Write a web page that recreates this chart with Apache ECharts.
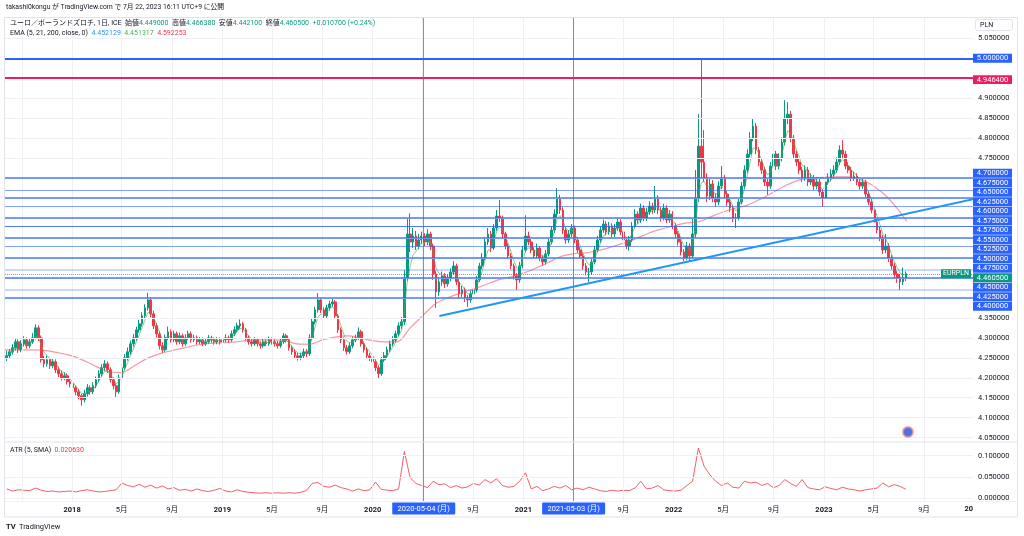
<!DOCTYPE html>
<html><head><meta charset="utf-8"><title>EURPLN</title>
<script src="https://cdn.jsdelivr.net/npm/echarts@6.0.0/dist/echarts.min.js"></script>
<style>html,body{margin:0;padding:0;background:#fff;}#chart{width:1024px;height:536px;}</style>
</head><body><div id="chart"></div>
<script>
// ---------------- DATA ----------------
// weekly candles, first week centred on 2017-07-26
const firstWeek = '2017-07-26';
const firstOpen = 4.250;
const closes = [
4.255,4.265,4.275,4.290,4.270,4.285,4.295,4.280,4.290,4.300,
4.325,4.300,4.245,4.235,4.245,4.230,4.240,4.220,4.210,4.200,
4.205,4.190,4.185,4.175,4.165,4.155,4.145,4.160,4.175,4.165,
4.180,4.195,4.210,4.225,4.235,4.220,4.195,4.180,4.165,4.200,
4.225,4.250,4.265,4.285,4.300,4.320,4.335,4.355,4.375,4.395,
4.360,4.330,4.310,4.280,4.270,4.300,4.315,4.295,4.310,4.290,
4.305,4.285,4.300,4.310,4.295,4.300,4.290,4.295,4.285,4.290,
4.300,4.295,4.290,4.295,4.290,4.295,4.300,4.295,4.310,4.320,
4.330,4.335,4.320,4.300,4.290,4.285,4.295,4.285,4.280,4.290,
4.285,4.295,4.290,4.285,4.280,4.290,4.305,4.295,4.275,4.265,
4.255,4.250,4.255,4.265,4.260,4.300,4.340,4.370,4.395,4.370,
4.355,4.375,4.385,4.390,4.355,4.320,4.295,4.275,4.265,4.280,
4.295,4.300,4.315,4.285,4.270,4.255,4.250,4.240,4.225,4.210,
4.245,4.255,4.270,4.285,4.295,4.310,4.330,4.340,4.450,4.560,
4.540,4.555,4.530,4.545,4.555,4.540,4.560,4.530,4.460,4.415,
4.440,4.455,4.435,4.450,4.465,4.480,4.440,4.410,4.420,4.400,
4.395,4.410,4.420,4.445,4.480,4.500,4.540,4.560,4.525,4.575,
4.605,4.600,4.560,4.530,4.505,4.480,4.455,4.445,4.480,4.520,
4.555,4.540,4.520,4.505,4.525,4.500,4.490,4.510,4.540,4.570,
4.610,4.650,4.620,4.570,4.545,4.560,4.575,4.545,4.520,4.505,
4.480,4.465,4.465,4.490,4.520,4.545,4.570,4.585,4.565,4.580,
4.560,4.575,4.590,4.565,4.545,4.530,4.545,4.580,4.610,4.595,
4.625,4.600,4.615,4.630,4.620,4.650,4.620,4.600,4.625,4.595,
4.610,4.580,4.560,4.540,4.515,4.500,4.530,4.505,4.560,4.650,
4.780,4.740,4.700,4.655,4.685,4.650,4.640,4.680,4.700,4.660,
4.640,4.625,4.600,4.600,4.640,4.680,4.720,4.760,4.800,4.830,
4.770,4.740,4.720,4.690,4.680,4.730,4.760,4.730,4.750,4.790,
4.850,4.860,4.800,4.760,4.740,4.720,4.700,4.720,4.690,4.700,
4.680,4.690,4.665,4.650,4.690,4.700,4.710,4.720,4.740,4.770,
4.760,4.730,4.720,4.700,4.705,4.690,4.680,4.690,4.660,4.640,
4.620,4.590,4.570,4.550,4.520,4.530,4.500,4.480,4.460,4.450,
4.440,4.450,4.4605];
const highs = [
4.268,4.272,4.284,4.298,4.296,4.294,4.304,4.301,4.297,4.312,
4.334,4.331,4.306,4.255,4.256,4.250,4.249,4.246,4.228,4.218,
4.214,4.211,4.198,4.192,4.181,4.172,4.160,4.170,4.184,4.181,
4.189,4.203,4.219,4.234,4.244,4.241,4.226,4.201,4.186,4.208,
4.233,4.259,4.276,4.293,4.310,4.328,4.345,4.364,4.384,4.413,
4.402,4.368,4.337,4.316,4.289,4.308,4.328,4.321,4.318,4.316,
4.313,4.311,4.309,4.318,4.316,4.308,4.306,4.302,4.301,4.297,
4.307,4.305,4.301,4.302,4.301,4.303,4.309,4.306,4.318,4.329,
4.338,4.346,4.340,4.325,4.306,4.297,4.302,4.300,4.291,4.297,
4.296,4.303,4.301,4.296,4.292,4.298,4.312,4.310,4.300,4.281,
4.271,4.262,4.263,4.273,4.272,4.309,4.348,4.378,4.412,4.401,
4.376,4.383,4.393,4.400,4.395,4.360,4.326,4.301,4.282,4.288,
4.303,4.308,4.326,4.320,4.291,4.276,4.262,4.365,4.246,4.231,
4.252,4.264,4.278,4.293,4.304,4.318,4.339,4.352,4.470,4.598,
4.612,4.575,4.568,4.560,4.566,4.562,4.572,4.566,4.536,4.468,
4.452,4.466,4.462,4.460,4.474,4.492,4.486,4.447,4.430,4.426,
4.407,4.418,4.428,4.455,4.488,4.512,4.552,4.575,4.568,4.585,
4.620,4.645,4.606,4.566,4.537,4.512,4.486,4.462,4.490,4.530,
4.607,4.566,4.547,4.527,4.536,4.530,4.507,4.520,4.550,4.580,
4.622,4.675,4.658,4.627,4.577,4.570,4.585,4.581,4.552,4.527,
4.512,4.487,4.475,4.499,4.530,4.555,4.580,4.596,4.592,4.590,
4.587,4.585,4.601,4.597,4.572,4.552,4.555,4.590,4.622,4.617,
4.636,4.632,4.626,4.642,4.638,4.680,4.657,4.627,4.636,4.632,
4.620,4.617,4.587,4.567,4.547,4.522,4.540,4.537,4.600,4.720,
4.860,4.998,4.820,4.712,4.700,4.695,4.662,4.692,4.730,4.708,
4.668,4.648,4.632,4.612,4.650,4.690,4.732,4.772,4.815,4.850,
4.838,4.778,4.748,4.728,4.698,4.740,4.790,4.768,4.762,4.802,
4.895,4.890,4.868,4.808,4.768,4.750,4.728,4.732,4.728,4.712,
4.708,4.702,4.698,4.672,4.700,4.712,4.722,4.732,4.752,4.782,
4.795,4.768,4.740,4.728,4.716,4.712,4.698,4.700,4.696,4.668,
4.648,4.627,4.598,4.578,4.557,4.560,4.537,4.507,4.487,4.468,
4.460,4.476,4.4664];
const lows = [
4.242,4.248,4.258,4.268,4.262,4.264,4.278,4.273,4.274,4.285,
4.296,4.292,4.238,4.226,4.228,4.222,4.224,4.212,4.202,4.193,
4.194,4.183,4.176,4.167,4.156,4.146,4.130,4.138,4.153,4.157,
4.159,4.174,4.189,4.203,4.217,4.212,4.188,4.171,4.150,4.160,
4.194,4.219,4.243,4.258,4.278,4.293,4.313,4.328,4.347,4.368,
4.352,4.322,4.301,4.271,4.262,4.265,4.294,4.288,4.289,4.283,
4.284,4.278,4.280,4.294,4.288,4.289,4.283,4.284,4.279,4.280,
4.285,4.288,4.283,4.284,4.283,4.285,4.289,4.288,4.290,4.304,
4.314,4.323,4.313,4.293,4.283,4.278,4.280,4.278,4.273,4.275,
4.279,4.280,4.283,4.278,4.273,4.275,4.285,4.288,4.268,4.257,
4.247,4.243,4.244,4.249,4.252,4.255,4.295,4.334,4.363,4.362,
4.347,4.350,4.368,4.377,4.348,4.312,4.287,4.267,4.258,4.260,
4.274,4.289,4.294,4.278,4.263,4.247,4.242,4.232,4.217,4.199,
4.205,4.239,4.249,4.264,4.279,4.289,4.304,4.322,4.332,4.442,
4.515,4.525,4.520,4.522,4.535,4.530,4.532,4.520,4.445,4.375,
4.405,4.430,4.425,4.428,4.442,4.458,4.432,4.400,4.402,4.390,
4.377,4.388,4.403,4.414,4.440,4.472,4.494,4.532,4.515,4.520,
4.568,4.590,4.550,4.522,4.497,4.472,4.446,4.420,4.438,4.474,
4.514,4.532,4.512,4.497,4.498,4.492,4.480,4.483,4.504,4.534,
4.563,4.602,4.610,4.560,4.536,4.538,4.552,4.537,4.512,4.497,
4.471,4.456,4.440,4.458,4.484,4.514,4.538,4.563,4.557,4.558,
4.552,4.553,4.568,4.557,4.537,4.522,4.518,4.540,4.574,4.586,
4.588,4.592,4.593,4.608,4.611,4.613,4.610,4.591,4.594,4.587,
4.588,4.572,4.551,4.531,4.506,4.492,4.494,4.490,4.498,4.552,
4.640,4.700,4.690,4.640,4.645,4.640,4.628,4.632,4.672,4.650,
4.630,4.615,4.590,4.575,4.594,4.634,4.673,4.712,4.752,4.792,
4.760,4.730,4.710,4.680,4.658,4.673,4.722,4.720,4.722,4.742,
4.782,4.835,4.790,4.750,4.730,4.710,4.690,4.693,4.680,4.683,
4.670,4.672,4.655,4.628,4.645,4.683,4.692,4.702,4.713,4.733,
4.750,4.722,4.712,4.692,4.693,4.682,4.671,4.673,4.652,4.632,
4.612,4.582,4.562,4.542,4.510,4.512,4.490,4.471,4.450,4.438,
4.420,4.432,4.4421];

// EMA 200, one value per month starting 2017-07
const ema200Start = '2017-07-01';
const ema200Vals = [
4.270,4.270,4.270,4.270,4.268,4.262,
4.255,4.242,4.228,4.215,4.213,4.230,4.248,4.260,4.268,4.275,4.282,4.286,
4.288,4.290,4.293,4.295,4.295,4.293,4.285,4.284,4.295,4.302,4.305,4.300,
4.293,4.290,4.290,4.325,4.355,4.385,4.400,4.412,4.422,4.433,4.445,4.452,
4.462,4.475,4.488,4.503,4.510,4.513,4.518,4.527,4.537,4.548,4.562,4.572,
4.580,4.588,4.590,4.603,4.615,4.625,4.633,4.648,4.665,4.682,4.695,4.700,
4.702,4.703,4.703,4.697,4.680,4.655,4.620];
const ema200Last = ['2023-07-21', 4.592253];

const atrVals = [
0.022,0.017,0.020,0.019,0.018,0.024,0.019,0.016,0.017,0.015,
0.016,0.017,0.015,0.018,0.020,0.017,0.015,0.016,0.018,0.020,
0.036,0.030,0.027,0.033,0.026,0.031,0.024,0.029,0.022,0.025,
0.019,0.021,0.017,0.022,0.018,0.016,0.019,0.023,0.017,0.015,
0.020,0.016,0.014,0.013,0.012,0.013,0.012,0.013,0.012,0.013,
0.012,0.014,0.018,0.035,0.037,0.028,0.026,0.031,0.025,0.022,
0.017,0.022,0.018,0.020,0.038,0.021,0.019,0.018,0.022,0.110,
0.048,0.035,0.030,0.025,0.040,0.032,0.034,0.025,0.030,0.024,
0.027,0.035,0.031,0.044,0.036,0.046,0.030,0.026,0.028,0.040,
0.060,0.022,0.028,0.018,0.022,0.028,0.024,0.030,0.020,0.024,
0.020,0.026,0.022,0.018,0.016,0.019,0.017,0.019,0.018,0.024,
0.040,0.022,0.024,0.030,0.020,0.018,0.017,0.019,0.030,0.040,
0.118,0.075,0.055,0.040,0.030,0.036,0.026,0.024,0.040,0.036,
0.038,0.030,0.035,0.025,0.030,0.044,0.035,0.028,0.044,0.025,
0.022,0.020,0.027,0.023,0.020,0.026,0.022,0.020,0.017,0.020,
0.022,0.024,0.036,0.027,0.032,0.028,0.021];

// drawn objects
const levelValues = [5.0, 4.9464, 4.70, 4.675, 4.65, 4.625, 4.60, 4.575, 4.575, 4.55, 4.525, 4.50, 4.475, 4.45, 4.425, 4.40];
const lastPrice = 4.4605;
const trendDates = ['2020-06-11', '2024-01-03'];
const trendPrices = [4.3547, 4.6484];
const markerDate = '2023-07-24', markerPrice = 4.064;
const vLineDates = ['2020-05-04', '2021-05-03'];
const vLineLabels = ['2020-05-04 (月)', '2021-05-03 (月)'];

// axes
const priceGridTicks = [4.05,4.10,4.15,4.20,4.25,4.30,4.35,4.40,4.45,4.50,4.55,4.60,4.65,4.70,4.75,4.80,4.85,4.90,4.95,5.00,5.05];
const priceLabelTicks = [4.05,4.10,4.15,4.20,4.25,4.30,4.35,4.75,4.80,4.85,4.90,5.05];
const atrTicks = [0, 0.05, 0.10];
const timeTickDates = ['2018-01-01','2018-05-01','2018-09-01','2019-01-01','2019-05-01','2019-09-01','2020-01-01','2020-09-01','2021-01-01','2021-09-01','2022-01-01','2022-05-01','2022-09-01','2023-01-01','2023-05-01','2023-09-01'];
const timeTickLabels = ['2018','5月','9月','2019','5月','9月','2020','9月','2021','9月','2022','5月','9月','2023','5月','9月'];
const timeGridDates = ['2017-09-01','2018-01-01','2018-05-01','2018-09-01','2019-01-01','2019-05-01','2019-09-01','2020-01-01','2020-05-01','2020-09-01','2021-01-01','2021-05-01','2021-09-01','2022-01-01','2022-05-01','2022-09-01','2023-01-01','2023-05-01','2023-09-01'];

// ---------------- BUILD ----------------
const FONT = "Roboto, 'Noto Sans CJK JP', sans-serif";
const DAY = 86400000, WEEK = 7 * DAY;
const T = s => Date.parse(s);
const t0 = T(firstWeek);
const tMin = T('2017-07-22'), tMax = T('2023-12-29');
const UP = '#089981', DOWN = '#f23645', BLUE = '#2962ff';

const candleData = closes.map((c, i) => [t0 + i * WEEK, i === 0 ? firstOpen : closes[i - 1], c, lows[i], highs[i]]);
// EMA(21, daily) applied on weekly closes (5 trading days per week)
const a21 = 1 - Math.pow(1 - 2 / 22, 5);
let e21 = closes[0];
const ema21Data = closes.map((c, i) => { if (i > 0) e21 = e21 + a21 * (c - e21); return [t0 + i * WEEK, e21]; });
const s200 = new Date(T(ema200Start));
const ema200Data = ema200Vals.map((v, m) => [Date.UTC(s200.getUTCFullYear(), s200.getUTCMonth() + m, 1), v]);
ema200Data.push([T(ema200Last[0]), ema200Last[1]]);
const atrData = atrVals.map((v, k) => [t0 + 2 * k * WEEK, v]);
const timeTickTs = timeTickDates.map(T);
const tickLabelMap = {}; timeTickTs.forEach((t, i) => tickLabelMap[t] = timeTickLabels[i]);

function levelStyle(v, idx) {
  if (idx === 0) return {color: BLUE, width: 2, opacity: 1, type: 'solid'};
  if (idx === 1) return {color: '#e91e63', width: 2, opacity: 1, type: 'solid'};
  const k = Math.round(v * 1000);
  if (k === 4475 || k === 4425) return {color: BLUE, width: 2, opacity: 0.25, type: 'solid'};
  if (k % 50 === 0) return {color: BLUE, width: 1.6, opacity: 0.85, type: 'solid'};
  return {color: BLUE, width: 1, opacity: 0.6, type: 'solid'};
}

const gridStyle = {color: '#eef0f5', width: 1, type: 'solid'};
const vStyle = {color: BLUE, width: 1, opacity: 0.7, type: 'solid'};
const mlBase = {silent: true, symbol: ['none', 'none'], label: {show: false}, animation: false};

const option = {
  animation: false,
  backgroundColor: '#ffffff',
  textStyle: {fontFamily: FONT},
  grid: [
    {left: 5, top: 18, width: 968, height: 424},
    {left: 5, top: 442, width: 968, height: 59}
  ],
  xAxis: [
    {type: 'value', gridIndex: 0, min: tMin, max: tMax, axisLine: {show: false}, axisTick: {show: false}, axisLabel: {show: false}, splitLine: {show: false}},
    {type: 'value', gridIndex: 1, min: tMin, max: tMax, axisLine: {show: false}, axisTick: {show: false}, splitLine: {show: false},
     axisLabel: {show: true, customValues: timeTickTs, margin: 5, hideOverlap: false,
       formatter: v => { const l = tickLabelMap[v] || ''; return /月/.test(l) ? '{m|' + l + '}' : '{y|' + l + '}'; },
       rich: {y: {fontWeight: 'bold', fontSize: 7.5, color: '#131722', fontFamily: FONT}, m: {fontSize: 7.5, color: '#131722', fontFamily: FONT}}}}
  ],
  yAxis: [
    {type: 'value', gridIndex: 0, position: 'right', min: 4.0392, max: 5.1008, axisLine: {show: false}, axisTick: {show: false}, splitLine: {show: false},
     axisLabel: {customValues: priceLabelTicks, formatter: v => v.toFixed(6), fontSize: 7.5, color: '#131722', margin: 5, fontFamily: FONT}},
    {type: 'value', gridIndex: 1, position: 'right', min: -0.00634, max: 0.1322, axisLine: {show: false}, axisTick: {show: false}, splitLine: {show: false},
     axisLabel: {customValues: atrTicks, formatter: v => v.toFixed(6), fontSize: 7.5, color: '#131722', margin: 5, fontFamily: FONT}}
  ],
  series: [
    {name: 'gridMain', type: 'line', xAxisIndex: 0, yAxisIndex: 0, z: 1, data: [[tMin, 4.5]], showSymbol: false, lineStyle: {opacity: 0},
     markLine: Object.assign({}, mlBase, {data: priceGridTicks.map(v => ({yAxis: v, lineStyle: gridStyle})).concat(timeGridDates.map(d => ({xAxis: T(d), lineStyle: gridStyle})))})},
    {name: 'gridAtr', type: 'line', xAxisIndex: 1, yAxisIndex: 1, z: 1, data: [[tMin, 0]], showSymbol: false, lineStyle: {opacity: 0},
     markLine: Object.assign({}, mlBase, {data: atrTicks.map(v => ({yAxis: v, lineStyle: gridStyle})).concat(timeGridDates.map(d => ({xAxis: T(d), lineStyle: gridStyle})))
       .concat(vLineDates.map(d => ({xAxis: T(d), lineStyle: vStyle})))})},
    {name: 'EURPLN', type: 'candlestick', xAxisIndex: 0, yAxisIndex: 0, z: 3, barWidth: 2.2, data: candleData,
     itemStyle: {color: UP, color0: DOWN, borderColor: UP, borderColor0: DOWN, borderWidth: 1}},
    {name: 'EMA200', type: 'line', xAxisIndex: 0, yAxisIndex: 0, z: 4, data: ema200Data, showSymbol: false, smooth: 0.3,
     lineStyle: {color: '#f7525f', width: 1.2, opacity: 0.6}},
    {name: 'EMA21', type: 'line', xAxisIndex: 0, yAxisIndex: 0, z: 4, data: ema21Data, showSymbol: false,
     lineStyle: {color: '#4caf50', width: 1, opacity: 0.65}},
    {name: 'levels', type: 'line', xAxisIndex: 0, yAxisIndex: 0, z: 5, data: [[tMin, 4.5]], showSymbol: false, lineStyle: {opacity: 0},
     markLine: Object.assign({}, mlBase, {data: levelValues.map((v, i) => ({yAxis: v, lineStyle: levelStyle(v, i)}))
       .concat([{yAxis: lastPrice, lineStyle: {color: UP, width: 1, type: 'dotted', opacity: 0.7}}])
       .concat(vLineDates.map(d => ({xAxis: T(d), lineStyle: vStyle})))})},
    {name: 'trend', type: 'line', xAxisIndex: 0, yAxisIndex: 0, z: 6, showSymbol: false,
     data: trendDates.map((d, i) => [T(d), trendPrices[i]]), lineStyle: {color: '#2196f3', width: 2}},
    {name: 'marker', type: 'scatter', xAxisIndex: 0, yAxisIndex: 0, z: 7, data: [[T(markerDate), markerPrice]], symbolSize: 10,
     itemStyle: {color: '#1f4fd6', borderColor: '#f58a93', borderWidth: 2}},
    {name: 'ATR', type: 'line', xAxisIndex: 1, yAxisIndex: 1, z: 4, data: atrData, showSymbol: false,
     lineStyle: {color: '#f23645', width: 1, opacity: 0.8}}
  ]
};

const chart = echarts.init(document.getElementById('chart'), null, {renderer: 'canvas'});
chart.setOption(option);

// ---------------- OVERLAY TEXT ----------------
const ctx = document.createElement('canvas').getContext('2d');
const g = [];
function textRun(x, y, parts, size) {
  parts.forEach(p => {
    const font = (p[2] ? 'bold ' : '') + size + 'px ' + FONT;
    g.push({type: 'text', z: 100, style: {text: p[0], x: x, y: y, fill: p[1], font: font, align: 'left', verticalAlign: 'middle'}});
    ctx.font = font; x += ctx.measureText(p[0]).width;
  });
}
const DK = '#131722';
g.push({type: 'rect', z: 90, shape: {x: 4.5, y: 17.5, width: 1013, height: 499.5}, style: {fill: 'none', stroke: '#e0e3eb', lineWidth: 1}});
g.push({type: 'line', z: 90, shape: {x1: 5, y1: 442, x2: 1017, y2: 442}, style: {stroke: '#e0e3eb', lineWidth: 1}});
g.push({type: 'line', z: 90, shape: {x1: 5, y1: 501.5, x2: 1017, y2: 501.5}, style: {stroke: '#eef0f5', lineWidth: 1}});

textRun(6, 7, [['takashi0kongu が TradingView.com で 7月 22, 2023 16:11 UTC+9 に公開', DK]], 6.8);
textRun(10, 23.3, [['ユーロ／ポーランドズロチ, 1日, ICE', DK], ['  始値', DK], ['4.449000', UP], ['  高値', DK], ['4.466380', UP],
  ['  安値', DK], ['4.442100', UP], ['  終値', DK], ['4.460500', UP], ['  +0.010700 (+0.24%)', UP]], 7);
textRun(10, 33.3, [['EMA (5, 21, 200, close, 0)', DK], ['  4.452129', '#2196f3'], ['  4.451317', '#4caf50'], ['  4.592253', '#f23645']], 7);
textRun(10, 450, [['ATR (5, SMA)', DK], ['  0.020630', '#f23645']], 7);
textRun(19, 527, [['TradingView', DK]], 7.5);
textRun(6, 527, [['TV', DK, true]], 7.5);

g.push({type: 'rect', z: 95, shape: {x: 975.5, y: 19.5, width: 37, height: 11, r: 2}, style: {fill: '#fff', stroke: '#e0e3eb', lineWidth: 1}});
g.push({type: 'text', z: 96, style: {text: 'PLN', x: 980, y: 25, fill: DK, font: '7px ' + FONT, align: 'left', verticalAlign: 'middle'}});

const yPix = v => chart.convertToPixel({yAxisIndex: 0}, v);
const labels = levelValues.map((v, i) => ({v: v, fill: i === 1 ? '#e91e63' : BLUE}));
labels.push({v: lastPrice, fill: UP});
labels.forEach(l => { l.y = yPix(l.v); });
labels.sort((p, q) => p.y - q.y || q.v - p.v);
const H = 9.5;
let groups = labels.map(l => ({items: [l], sum: l.y}));
let changed = true;
while (changed) {
  changed = false;
  for (let i = 1; i < groups.length; i++) {
    const A = groups[i - 1], B = groups[i];
    const aBot = A.sum / A.items.length + A.items.length * H / 2;
    const bTop = B.sum / B.items.length - B.items.length * H / 2;
    if (bTop < aBot - 0.01) { A.items = A.items.concat(B.items); A.sum += B.sum; groups.splice(i, 1); changed = true; break; }
  }
}
groups.forEach(G => {
  const n = G.items.length, top = G.sum / n - n * H / 2;
  G.items.forEach((it, j) => {
    const cy = top + j * H + H / 2;
    g.push({type: 'rect', z: 95, shape: {x: 973, y: cy - H / 2 + 0.3, width: 39, height: H - 0.6}, style: {fill: it.fill}});
    g.push({type: 'text', z: 96, style: {text: it.v.toFixed(6), x: 992.5, y: cy, fill: '#fff', font: '7.5px ' + FONT, align: 'center', verticalAlign: 'middle'}});
  });
});
const yLast = yPix(lastPrice);
g.push({type: 'rect', z: 95, shape: {x: 941, y: yLast - 4.5, width: 30, height: 9, r: 1}, style: {fill: UP}});
g.push({type: 'text', z: 96, style: {text: 'EURPLN', x: 956, y: yLast, fill: '#fff', font: '7px ' + FONT, align: 'center', verticalAlign: 'middle'}});

const xPix = t => chart.convertToPixel({xAxisIndex: 1}, t);
vLineDates.forEach((d, i) => {
  const x = xPix(T(d));
  g.push({type: 'rect', z: 95, shape: {x: x - 31.5, y: 502.5, width: 63, height: 12, r: 1}, style: {fill: BLUE}});
  g.push({type: 'text', z: 96, style: {text: vLineLabels[i], x: x, y: 508.7, fill: '#fff', font: '7.5px ' + FONT, align: 'center', verticalAlign: 'middle'}});
});
g.push({type: 'text', z: 96, style: {text: '20', x: 973, y: 509, fill: DK, font: 'bold 7.5px ' + FONT, align: 'right', verticalAlign: 'middle'}});

chart.setOption({graphic: {elements: g}});
</script>
</body></html>
